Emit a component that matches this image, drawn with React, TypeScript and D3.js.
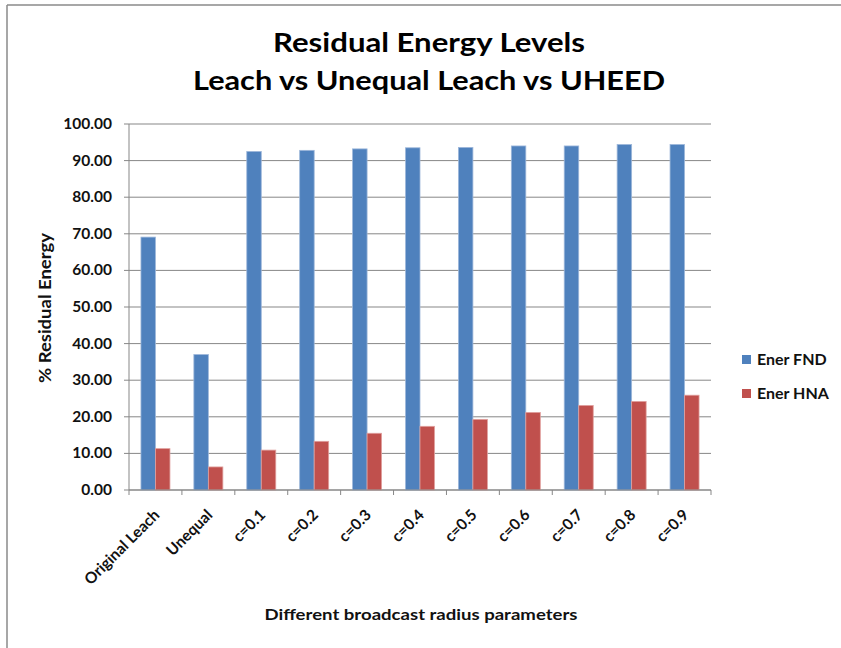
import React from "react";
import * as d3 from "d3";

const categories = ["Original Leach", "Unequal", "c=0.1", "c=0.2", "c=0.3", "c=0.4", "c=0.5", "c=0.6", "c=0.7", "c=0.8", "c=0.9"];
const enerFND = [69.1, 37.0, 92.5, 92.8, 93.2, 93.5, 93.6, 94.0, 94.0, 94.4, 94.4];
const enerHNA = [11.3, 6.3, 10.9, 13.3, 15.5, 17.4, 19.3, 21.2, 23.1, 24.2, 25.9];
const yTicks = [0, 10, 20, 30, 40, 50, 60, 70, 80, 90, 100];
const seriesNames = ["Ener FND", "Ener HNA"];
const colors = ["#4F81BD", "#C0504D"];
const strokes = ["#9db7da", "#e0a09e"];

const W = 841, H = 648;
const left = 129, right = 711, top = 124, bottom = 490;
const FONT = "Lato, 'Open Sans', sans-serif";

export default function App() {
  const x = d3.scaleBand<string>().domain(categories).range([left, right]).paddingInner(0).paddingOuter(0);
  const y = d3.scaleLinear().domain([0, 100]).range([bottom, top]);
  const bw = 14.5;
  const series = [enerFND, enerHNA];
  const boundaries = d3.range(categories.length + 1).map((i) => left + i * x.step());

  return (
    <svg width={W} height={H} style={{ position: "absolute", left: 0, top: 0, background: "#fff" }} fontFamily={FONT}>
      <rect x={0} y={0} width={W} height={H} fill="#fff" />
      <line x1={7} y1={5} x2={W} y2={5} stroke="#8a8a8a" strokeWidth={1.5} />
      <line x1={7} y1={5} x2={7} y2={H} stroke="#8a8a8a" strokeWidth={1.5} />

      <text x={429} y={52} textAnchor="middle" fontSize={26} fontWeight="bold" fill="#000" textLength={312} lengthAdjust="spacingAndGlyphs">Residual Energy Levels</text>
      <text x={429} y={90} textAnchor="middle" fontSize={26} fontWeight="bold" fill="#000" textLength={472} lengthAdjust="spacingAndGlyphs">Leach vs Unequal Leach vs UHEED</text>

      {yTicks.map((t) => (
        <g key={t}>
          <line x1={left - 5} x2={right} y1={y(t)} y2={y(t)} stroke="#878787" strokeWidth={1} />
          <text x={112} y={y(t) + 5} textAnchor="end" fontSize={15.5} fontWeight="bold" fill="#111">{t.toFixed(2)}</text>
        </g>
      ))}
      <line x1={left} x2={left} y1={top} y2={bottom} stroke="#878787" strokeWidth={1} />

      {series.map((vals, si) =>
        vals.map((v, i) => {
          const cx = (x(categories[i]) as number) + x.bandwidth() / 2;
          const bx = si === 0 ? cx - bw : cx;
          return (
            <rect key={si + "-" + i} x={bx} y={y(v)} width={bw} height={y(0) - y(v)} fill={colors[si]} stroke={strokes[si]} strokeWidth={0.8} />
          );
        })
      )}

      <line x1={left} x2={right} y1={bottom} y2={bottom} stroke="#878787" strokeWidth={1} />
      {boundaries.map((b, i) => (
        <line key={i} x1={b} x2={b} y1={bottom} y2={bottom + 5} stroke="#878787" strokeWidth={1} />
      ))}

      {categories.map((c) => {
        const cx = (x(c) as number) + x.bandwidth() / 2 + 5;
        const ty = 516;
        return (
          <text key={c} x={cx} y={ty} textAnchor="end" fontSize={15.5} fontWeight="bold" fill="#111" transform={`rotate(-45 ${cx} ${ty})`}>{c}</text>
        );
      })}

      <text transform={`translate(51 308) rotate(-90)`} textAnchor="middle" fontSize={17} fontWeight="bold" fill="#111" textLength={150} lengthAdjust="spacingAndGlyphs">% Residual Energy</text>
      <text x={421} y={620} textAnchor="middle" fontSize={16} fontWeight="bold" fill="#111" textLength={313} lengthAdjust="spacingAndGlyphs">Different broadcast radius parameters</text>

      {seriesNames.map((n, i) => (
        <g key={n}>
          <rect x={742} y={355 + i * 34} width={9} height={9} fill={colors[i]} />
          <text x={757} y={365 + i * 34} fontSize={16} fontWeight="bold" fill="#111">{n}</text>
        </g>
      ))}
    </svg>
  );
}
